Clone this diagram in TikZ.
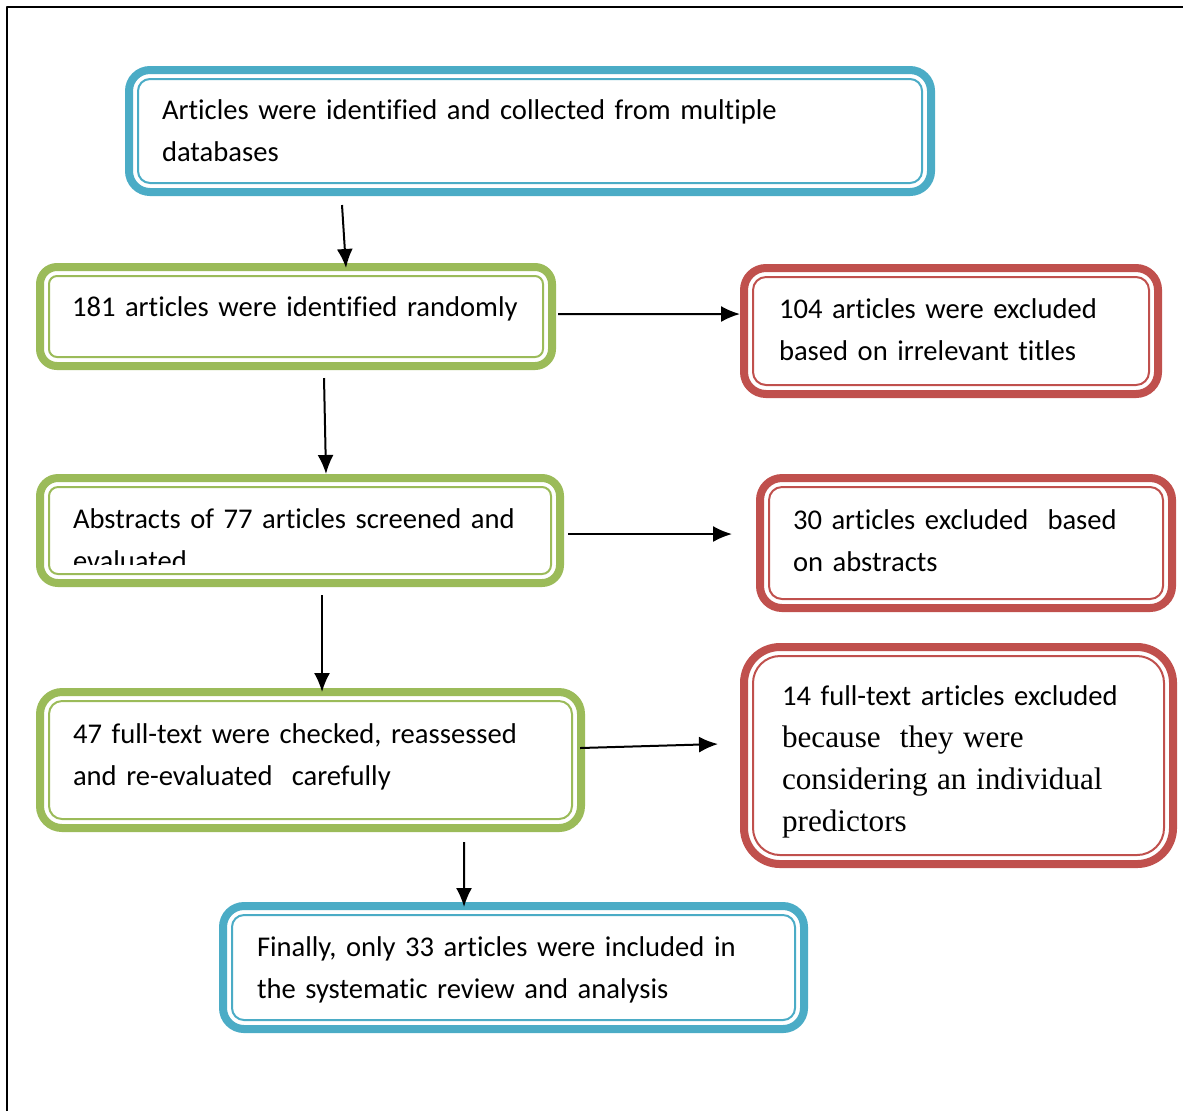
\documentclass[tikz,border=0pt]{standalone}
\usepackage{fontspec}
\setmainfont{Carlito}[Ligatures=NoCommon]
\newfontfamily\timesfont{Liberation Serif}
\usetikzlibrary{arrows.meta}
\definecolor{boxblue}{HTML}{4BACC6}
\definecolor{boxgreen}{HTML}{9BBB59}
\definecolor{boxred}{HTML}{C0504D}
\begin{document}
\begin{tikzpicture}[x=0.5bp,y=-0.5bp,>={Latex[length=9.5bp,width=8bp]},line join=bevel,
  box/.style={draw=#1,line width=4bp,fill=white,anchor=north west,outer sep=0pt,inner ysep=0pt,align=left,font=\fontsize{14.3bp}{21bp}\selectfont},
  link/.style={black,line width=1bp,->}]
%%
\useasboundingbox (0,0) rectangle (1183,1111);
\draw [line width=0.75bp] (7,1111) -- (7,7) -- (1183,7);
%
\node (ident) at (129,70) [box=boxblue,rounded corners=10.5bp,inner xsep=16.5bp,text width=368bp,text height=24.5bp,text depth=36.5bp] {Articles were identified and collected from multiple\\databases};
  \node (rand) at (40,267) [box=boxgreen,rounded corners=8.5bp,inner xsep=16bp,text width=224bp,text height=24.5bp,text depth=25bp] {181 articles were identified randomly};
  \node (titles) at (744,268) [box=boxred,rounded corners=11bp,inner xsep=17.5bp,text width=172bp,text height=25bp,text depth=38bp] {104 articles were excluded\\based on irrelevant titles};
  \begin{scope}
    \clip (0,0) rectangle (1183,564) (0,574) rectangle (1183,1111) (0,564) rectangle (50,574) (552,564) rectangle (1183,574);
    \node (abstr) at (40,478) [box=boxgreen,rounded corners=9bp,inner xsep=16.5bp,text width=227bp,text height=25bp,text depth=27.5bp] {Abstracts of 77 articles screened and\\evaluated};
  \end{scope}
  \node (abstrout) at (760,478) [box=boxred,rounded corners=11bp,inner xsep=16.5bp,text width=173bp,text height=25.5bp,text depth=39.5bp] {30 articles excluded\ \ based\\on abstracts};
  \node (full) at (40,692) [box=boxgreen,rounded corners=11bp,inner xsep=16.5bp,text width=237.5bp,text height=25.5bp,text depth=42.5bp] {47 full-text were checked, reassessed\\and re-evaluated\ \ carefully};
  \node (fullout) at (744,647) [box=boxred,rounded corners=18bp,inner xsep=19bp,text width=176.5bp,text height=29bp,text depth=79.5bp] {14 full-text articles excluded\\{\timesfont\fontsize{15.6bp}{21bp}\selectfont because\ \ they were}\\{\timesfont\fontsize{15.6bp}{21bp}\selectfont considering an individual}\\{\timesfont\fontsize{15.6bp}{21bp}\selectfont predictors}};
  \node (final) at (223,906) [box=boxblue,rounded corners=10.5bp,inner xsep=17bp,text width=256.5bp,text height=25bp,text depth=36.5bp] {Finally, only 33 articles were included in\\the systematic review and analysis};
%
\foreach \n/\c/\r in {ident/boxblue/6,rand/boxgreen/4,titles/boxred/6.5,abstr/boxgreen/4.5,abstrout/boxred/6.5,full/boxgreen/6.5,fullout/boxred/13.5,final/boxblue/6}
  \draw [\c,line width=1bp,rounded corners=\r bp] ([shift={(4.5bp,-4.5bp)}]\n.north west) rectangle ([shift={(-4.5bp,4.5bp)}]\n.south east);
%
  \draw [link] ([shift={(106.5bp,-6.5bp)}]ident.south west) -- ([shift={(153bp,-0.5bp)}]rand.north west);
  \draw [link] ([shift={(142bp,-6bp)}]rand.south west) -- ([shift={(143bp,2bp)}]abstr.north west);
  \draw [link] ([shift={(141bp,-6bp)}]abstr.south west) -- ([shift={(141bp,0bp)}]full.north west);
  \draw [link] ([shift={(212bp,-7bp)}]full.south west) -- ([shift={(120.5bp,-0.5bp)}]final.north west);
  \draw [link] ([shift={(3bp,-23.5bp)}]rand.north east) -- ([shift={(-2bp,-23bp)}]titles.north west);
  \draw [link] ([shift={(4bp,-28bp)}]abstr.north east) -- ([shift={(-14bp,-28bp)}]abstrout.north west);
  \draw [link] ([shift={(-0.5bp,-28bp)}]full.north east) -- ([shift={(-13bp,-48.5bp)}]fullout.north west);
%
\end{tikzpicture}
\end{document}
